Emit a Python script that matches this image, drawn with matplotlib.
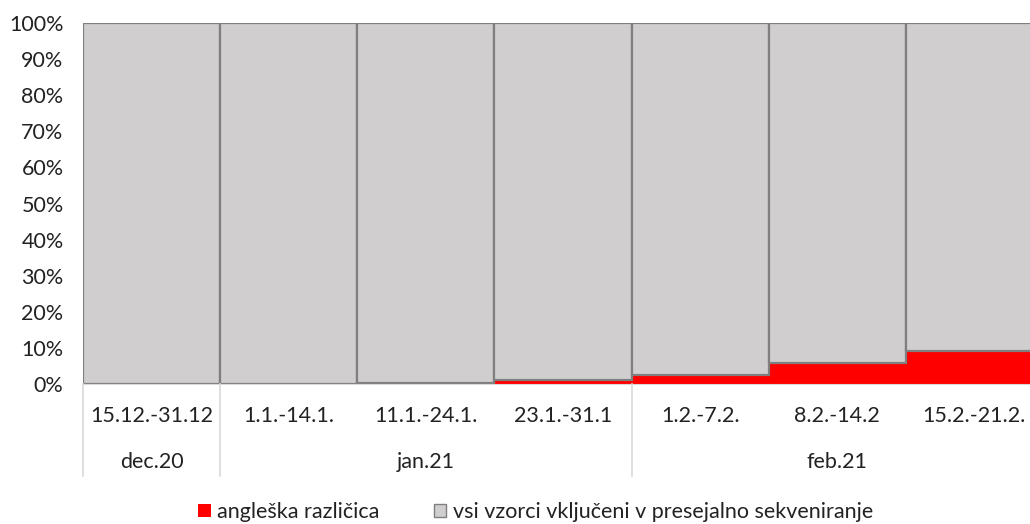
import matplotlib.pyplot as plt
from matplotlib.patches import Patch
from matplotlib.ticker import PercentFormatter

plt.rcParams['font.family'] = ['Lato', 'DejaVu Sans']

# DATA
periods = ["15.12.-31.12", "1.1.-14.1.", "11.1.-24.1.", "23.1.-31.1",
           "1.2.-7.2.", "8.2.-14.2", "15.2.-21.2."]
months = ["dec.20", "jan.21", "feb.21"]
month_span = [1, 3, 3]
uk_variant = [0.0, 0.0, 0.3, 1.0, 2.5, 5.8, 9.2]
all_samples = [100 - v for v in uk_variant]

RED = "#ff0000"
GRAY = "#d0cece"
EDGE = "#7f7f7f"
SEP = "#d9d9d9"
TXT = "#222222"
FS = 15.5

fig = plt.figure(figsize=(10.30, 5.24), dpi=100)
W, H = 1030, 524
left, right, top, bottom = 83, 1043, 23, 384
ax = fig.add_axes([left / W, (H - bottom) / H, (right - left) / W, (bottom - top) / H])

x = list(range(len(periods)))
ax.bar(x, uk_variant, width=1.0, color=RED, linewidth=0)
ax.bar(x, all_samples, width=1.0, bottom=uk_variant, color=GRAY,
       edgecolor=EDGE, linewidth=1.6)

ax.set_xlim(-0.5, len(periods) - 0.5)
ax.set_ylim(0, 100)
ax.set_yticks(range(0, 101, 10))
ax.yaxis.set_major_formatter(PercentFormatter(decimals=0))
ax.tick_params(axis='y', length=0, pad=14, labelsize=FS, labelcolor=TXT)
ax.set_xticks([])
for s in ["top", "right", "left"]:
    ax.spines[s].set_visible(False)
ax.spines["bottom"].set_color(SEP)

# first level labels
tr = ax.get_xaxis_transform()
for i, p in enumerate(x):
    ax.text(p, -0.09, periods[i], transform=tr, ha="center", va="center",
            fontsize=FS, color=TXT)

# second level labels and separators
start = 0
ax.plot([-0.5, -0.5], [0, -0.255], transform=tr, color=SEP, lw=1.2, clip_on=False)
for m, n in zip(months, month_span):
    mid = start + (n - 1) / 2
    ax.text(mid, -0.215, m, transform=tr, ha="center", va="center",
            fontsize=FS, color=TXT)
    start += n
    if start < len(periods):
        ax.plot([start - 0.5, start - 0.5], [0, -0.255], transform=tr,
                color=SEP, lw=1.2, clip_on=False)

handles = [Patch(facecolor=RED, edgecolor="none"),
           Patch(facecolor=GRAY, edgecolor=EDGE, linewidth=1)]
fig.legend(handles, ["angleška različica", "vsi vzorci vključeni v presejalno sekveniranje"],
           loc="center", bbox_to_anchor=(0.52, 1 - 512 / H), ncol=2, frameon=False,
           fontsize=FS, handlelength=0.6, handleheight=0.6, handletextpad=0.3,
           columnspacing=2.5, labelcolor=TXT)

fig.savefig("out.png", dpi=100)
